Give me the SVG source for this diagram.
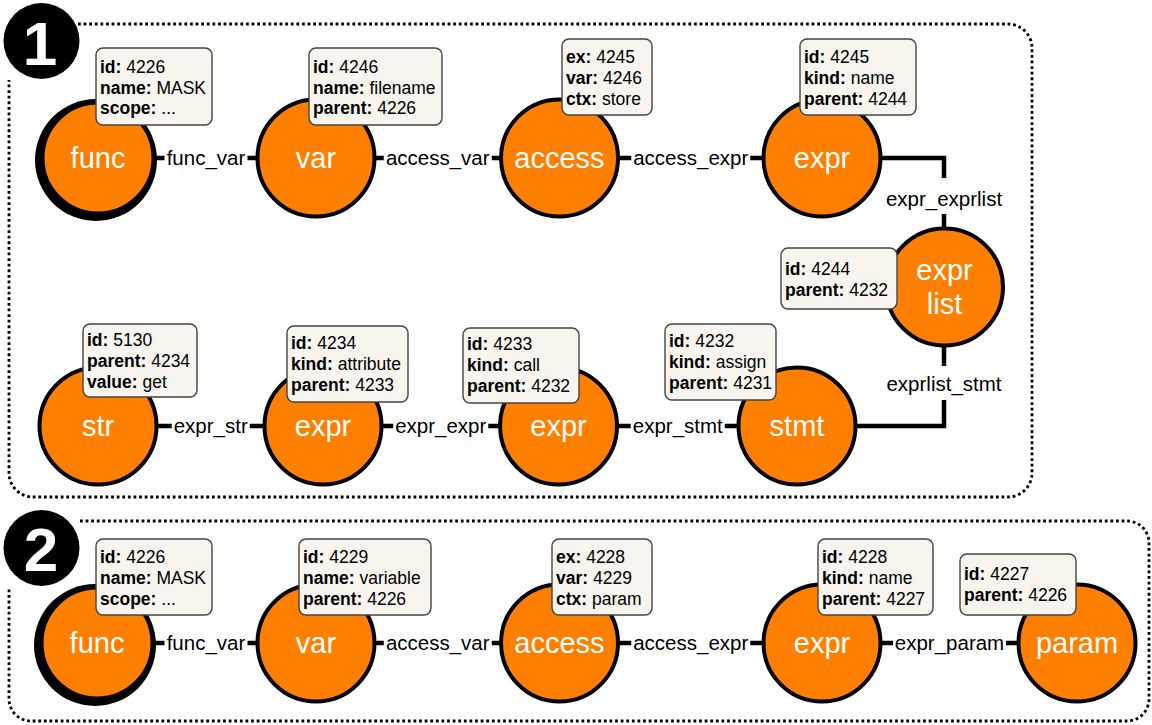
<svg xmlns="http://www.w3.org/2000/svg" width="1152" height="725" viewBox="0 0 1152 725">
<style>
.panel{fill:none;stroke:#000;stroke-width:2.8;stroke-dasharray:2.8 2.8}
.badge{fill:#000}
.badge-t{fill:#fff;font-family:"Liberation Sans",Arial,sans-serif;font-weight:bold;font-size:62px;text-anchor:middle}
.edge{fill:none;stroke:#000;stroke-width:4.5}
.lbg{fill:#fff}
.elabel{font-family:"Liberation Sans",Arial,sans-serif;font-size:20.5px;fill:#000;text-anchor:middle}
.node{fill:#ff8000;stroke:#000;stroke-width:4}
.ntext{font-family:"Liberation Sans",Arial,sans-serif;font-size:29px;fill:#fff;text-anchor:middle}
.box{fill:#f7f5ee;stroke:#444;stroke-width:1.4}
.btext{font-family:"Liberation Sans",Arial,sans-serif;font-size:17.5px;fill:#000}
.k{font-weight:bold}
</style>

<!-- panels -->
<g id="panel1">
<path class="panel" d="M78 24 H1008 A24 24 0 0 1 1032 48 V473 A24 24 0 0 1 1008 497 H33 A24 24 0 0 1 9 473 V80"/>
<circle class="badge" cx="41.5" cy="41" r="38"/>
<text class="badge-t" x="40" y="65">1</text>
</g>
<g id="panel2">
<path class="panel" d="M80 521 H1127 A22 22 0 0 1 1149 543 V699 A22 22 0 0 1 1127 721 H31 A22 22 0 0 1 9 699 V588"/>
<circle class="badge" cx="41.5" cy="548" r="38"/>
<text class="badge-t" x="41" y="571">2</text>
</g>

<!-- connectors -->
<g id="connectors">
<line class="edge" x1="150" y1="158" x2="265" y2="158"/>
<line class="edge" x1="370" y1="158" x2="505" y2="158"/>
<line class="edge" x1="615" y1="158" x2="770" y2="158"/>
<polyline class="edge" points="875,158 944,158 944,235"/>
<polyline class="edge" points="944,340 944,426 850,426"/>
<line class="edge" x1="150" y1="426" x2="270" y2="426"/>
<line class="edge" x1="375" y1="426" x2="505" y2="426"/>
<line class="edge" x1="612" y1="426" x2="745" y2="426"/>
<line class="edge" x1="150" y1="643" x2="265" y2="643"/>
<line class="edge" x1="370" y1="643" x2="505" y2="643"/>
<line class="edge" x1="615" y1="643" x2="770" y2="643"/>
<line class="edge" x1="875" y1="643" x2="1025" y2="643"/>

<rect class="lbg" x="164.5" y="147" width="83" height="22"/>
<text class="elabel" x="206" y="165">func_var</text>
<rect class="lbg" x="383.75" y="147" width="108" height="22"/>
<text class="elabel" x="437.75" y="165">access_var</text>
<rect class="lbg" x="631.25" y="147" width="119" height="22"/>
<text class="elabel" x="690.75" y="165">access_expr</text>
<rect class="lbg" x="886" y="178" width="116" height="36"/>
<text class="elabel" x="944" y="206">expr_exprlist</text>
<rect class="lbg" x="886" y="366" width="116" height="34"/>
<text class="elabel" x="944" y="391">exprlist_stmt</text>
<rect class="lbg" x="171.75" y="415" width="78" height="22"/>
<text class="elabel" x="210.75" y="433">expr_str</text>
<rect class="lbg" x="393.25" y="415" width="95" height="22"/>
<text class="elabel" x="440.75" y="433">expr_expr</text>
<rect class="lbg" x="630.75" y="415" width="94" height="22"/>
<text class="elabel" x="677.75" y="433">expr_stmt</text>
<rect class="lbg" x="164.5" y="632" width="83" height="22"/>
<text class="elabel" x="206" y="650">func_var</text>
<rect class="lbg" x="383.75" y="632" width="108" height="22"/>
<text class="elabel" x="437.75" y="650">access_var</text>
<rect class="lbg" x="631.25" y="632" width="119" height="22"/>
<text class="elabel" x="690.75" y="650">access_expr</text>
<rect class="lbg" x="893" y="632" width="113" height="22"/>
<text class="elabel" x="949.5" y="650">expr_param</text>
</g>

<!-- panel 1 nodes -->
<g id="p1-func">
<circle cx="96" cy="160" r="61" fill="#000"/>
<circle class="node" cx="98" cy="158" r="55.5"/>
<text class="ntext" x="98" y="168">func</text>
<rect class="box" x="96" y="48" width="116" height="77" rx="7"/>
<text class="btext" x="100" y="73"><tspan class="k">id:</tspan> 4226</text>
<text class="btext" x="100" y="93.5"><tspan class="k">name:</tspan> MASK</text>
<text class="btext" x="100" y="113.5"><tspan class="k">scope:</tspan> ...</text>
</g>
<g id="p1-var">
<circle class="node" cx="316" cy="158" r="58.5"/>
<text class="ntext" x="316" y="168">var</text>
<rect class="box" x="309" y="48" width="133" height="77" rx="7"/>
<text class="btext" x="313" y="73"><tspan class="k">id:</tspan> 4246</text>
<text class="btext" x="313" y="93.5"><tspan class="k">name:</tspan> filename</text>
<text class="btext" x="313" y="114"><tspan class="k">parent:</tspan> 4226</text>
</g>
<g id="p1-access">
<circle class="node" cx="559.5" cy="158" r="58.5"/>
<text class="ntext" x="559.5" y="168">access</text>
<rect class="box" x="562" y="39" width="90" height="76" rx="7"/>
<text class="btext" x="566" y="63"><tspan class="k">ex:</tspan> 4245</text>
<text class="btext" x="566" y="84"><tspan class="k">var:</tspan> 4246</text>
<text class="btext" x="566" y="105"><tspan class="k">ctx:</tspan> store</text>
</g>
<g id="p1-expr-name">
<circle class="node" cx="822" cy="158" r="58.5"/>
<text class="ntext" x="822" y="168">expr</text>
<rect class="box" x="800" y="39" width="116" height="76" rx="7"/>
<text class="btext" x="804" y="63"><tspan class="k">id:</tspan> 4245</text>
<text class="btext" x="804" y="84"><tspan class="k">kind:</tspan> name</text>
<text class="btext" x="804" y="105"><tspan class="k">parent:</tspan> 4244</text>
</g>
<g id="p1-exprlist">
<circle class="node" cx="944.5" cy="287" r="58.5"/>
<text class="ntext" x="944.5" y="280">expr</text>
<text class="ntext" x="944.5" y="314">list</text>
<rect class="box" x="781" y="248" width="116" height="61" rx="7"/>
<text class="btext" x="785" y="275"><tspan class="k">id:</tspan> 4244</text>
<text class="btext" x="785" y="296"><tspan class="k">parent:</tspan> 4232</text>
</g>
<g id="p1-str">
<circle class="node" cx="98" cy="426" r="58.5"/>
<text class="ntext" x="98" y="436">str</text>
<rect class="box" x="83" y="324" width="114" height="73" rx="7"/>
<text class="btext" x="87" y="346"><tspan class="k">id:</tspan> 5130</text>
<text class="btext" x="87" y="367"><tspan class="k">parent:</tspan> 4234</text>
<text class="btext" x="87" y="388"><tspan class="k">value:</tspan> get</text>
</g>
<g id="p1-expr-attribute">
<circle class="node" cx="323" cy="426" r="58.5"/>
<text class="ntext" x="323" y="436">expr</text>
<rect class="box" x="287" y="326" width="121" height="76" rx="7"/>
<text class="btext" x="291" y="349"><tspan class="k">id:</tspan> 4234</text>
<text class="btext" x="291" y="370"><tspan class="k">kind:</tspan> attribute</text>
<text class="btext" x="291" y="391"><tspan class="k">parent:</tspan> 4233</text>
</g>
<g id="p1-expr-call">
<circle class="node" cx="558.5" cy="426" r="58.5"/>
<text class="ntext" x="558.5" y="436">expr</text>
<rect class="box" x="463" y="328" width="116" height="75" rx="7"/>
<text class="btext" x="467" y="350"><tspan class="k">id:</tspan> 4233</text>
<text class="btext" x="467" y="371"><tspan class="k">kind:</tspan> call</text>
<text class="btext" x="467" y="392"><tspan class="k">parent:</tspan> 4232</text>
</g>
<g id="p1-stmt">
<circle class="node" cx="797" cy="426" r="58.5"/>
<text class="ntext" x="797" y="436">stmt</text>
<rect class="box" x="665" y="324" width="111" height="76" rx="7"/>
<text class="btext" x="669" y="347"><tspan class="k">id:</tspan> 4232</text>
<text class="btext" x="669" y="368"><tspan class="k">kind:</tspan> assign</text>
<text class="btext" x="669" y="389"><tspan class="k">parent:</tspan> 4231</text>
</g>

<!-- panel 2 nodes -->
<g id="p2-func">
<circle cx="95" cy="645" r="61" fill="#000"/>
<circle class="node" cx="97" cy="643" r="55.5"/>
<text class="ntext" x="97" y="653">func</text>
<rect class="box" x="96" y="539" width="116" height="76" rx="7"/>
<text class="btext" x="100" y="563"><tspan class="k">id:</tspan> 4226</text>
<text class="btext" x="100" y="584"><tspan class="k">name:</tspan> MASK</text>
<text class="btext" x="100" y="605"><tspan class="k">scope:</tspan> ...</text>
</g>
<g id="p2-var">
<circle class="node" cx="316" cy="643" r="58.5"/>
<text class="ntext" x="316" y="653">var</text>
<rect class="box" x="299" y="539" width="132" height="76" rx="7"/>
<text class="btext" x="303" y="563"><tspan class="k">id:</tspan> 4229</text>
<text class="btext" x="303" y="584"><tspan class="k">name:</tspan> variable</text>
<text class="btext" x="303" y="605"><tspan class="k">parent:</tspan> 4226</text>
</g>
<g id="p2-access">
<circle class="node" cx="559.5" cy="643" r="58.5"/>
<text class="ntext" x="559.5" y="653">access</text>
<rect class="box" x="552" y="539" width="100" height="76" rx="7"/>
<text class="btext" x="556" y="563"><tspan class="k">ex:</tspan> 4228</text>
<text class="btext" x="556" y="584"><tspan class="k">var:</tspan> 4229</text>
<text class="btext" x="556" y="605"><tspan class="k">ctx:</tspan> param</text>
</g>
<g id="p2-expr">
<circle class="node" cx="822" cy="643" r="58.5"/>
<text class="ntext" x="822" y="653">expr</text>
<rect class="box" x="818" y="539" width="115" height="76" rx="7"/>
<text class="btext" x="822" y="563"><tspan class="k">id:</tspan> 4228</text>
<text class="btext" x="822" y="584"><tspan class="k">kind:</tspan> name</text>
<text class="btext" x="822" y="605"><tspan class="k">parent:</tspan> 4227</text>
</g>
<g id="p2-param">
<circle class="node" cx="1077" cy="643" r="58.5"/>
<text class="ntext" x="1077" y="653">param</text>
<rect class="box" x="960" y="554" width="116" height="61" rx="7"/>
<text class="btext" x="964" y="580"><tspan class="k">id:</tspan> 4227</text>
<text class="btext" x="964" y="601"><tspan class="k">parent:</tspan> 4226</text>
</g>
</svg>
